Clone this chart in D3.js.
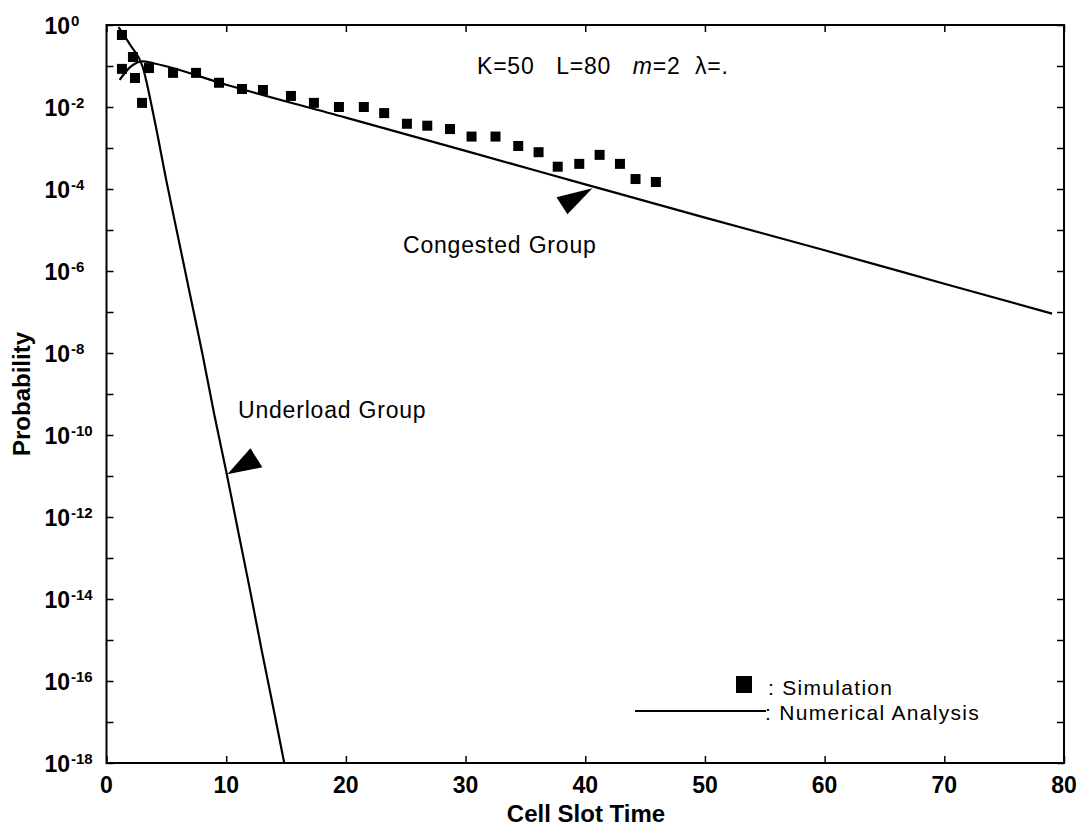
<!DOCTYPE html>
<html>
<head>
<meta charset="utf-8">
<script src="https://cdn.jsdelivr.net/npm/d3@7/dist/d3.min.js"></script>
<style>
  html, body { margin: 0; padding: 0; background: #fff; }
  svg { display: block; }
  text { font-family: "Liberation Sans", Arial, Helvetica, sans-serif; fill: #000; }
</style>
</head>
<body>
<svg id="chart" width="1086" height="829"></svg>
<script>
// ---- data ----
const xTicks = [0, 10, 20, 30, 40, 50, 60, 70, 80];
const yTickExponents = [0, -1, -2, -3, -4, -5, -6, -7, -8, -9, -10, -11, -12, -13, -14, -15, -16, -17, -18];
const yLabelExponents = [0, -2, -4, -6, -8, -10, -12, -14, -16, -18];

// Numerical analysis: congested group
const congestedX = [1.1, 2.0, 3.0, 4.0, 10, 20, 30, 40, 50, 60, 70, 79];
const congestedY = [0.046, 0.095, 0.13, 0.115, 0.035, 5.5e-3, 8.5e-4, 1.3e-4, 2.0e-5, 3.2e-6, 4.9e-7, 9.1e-8];

// Numerical analysis: underload group
const underloadX = [1.0, 2.0, 3.0, 4.0, 5.0, 6.0, 7.0, 8.0, 9.0, 10, 11, 12, 13, 14, 14.85];
const underloadY = [0.89, 0.32, 0.1, 5.0e-3, 1.6e-4, 6.3e-6, 2.5e-7, 1.0e-8, 3.2e-10, 1.3e-11, 4.5e-13, 1.6e-14, 5.0e-16, 1.8e-17, 1.0e-18];

// Simulation points
const simX = [1.29, 2.21, 1.29, 2.38, 2.97, 3.55, 5.56, 7.48, 9.4, 11.32, 13.07, 15.41, 17.33, 19.42, 21.5, 23.2, 25.1, 26.8, 28.7, 30.5, 32.5, 34.4, 36.1, 37.7, 39.5, 41.2, 42.9, 44.2, 45.9];
const simY = [0.57, 0.166, 0.085, 0.051, 0.0126, 0.089, 0.068, 0.068, 0.039, 0.0275, 0.026, 0.0186, 0.0126, 0.010, 0.010, 0.0071, 0.0039, 0.0035, 0.0029, 0.0019, 0.0019, 0.00112, 7.9e-4, 3.5e-4, 4.1e-4, 6.8e-4, 4.1e-4, 1.75e-4, 1.48e-4];

// annotation anchor points (on the curves)
const congestedArrow = { x: 40.6, y: 1.05e-4 };
const underloadArrow = { x: 10.1, y: 1.1e-11 };

// ---- layout ----
const svg = d3.select("#chart");
const L = 106.5, R = 1064, T = 25, B = 763;
const x = d3.scaleLinear().domain([0, 80]).range([L, R]);
const y = d3.scaleLog().domain([1e-18, 1]).range([B, T]);

const g = svg.append("g");

svg.append("defs").append("clipPath").attr("id", "plotclip")
  .append("rect").attr("x", L).attr("y", T).attr("width", R - L).attr("height", B - T);

const yTickVals = yTickExponents.map(e => Math.pow(10, e));
function styleAxis(s) {
  s.select(".domain").remove();
  s.selectAll("line").attr("stroke", "#000").attr("stroke-width", 1.5);
}
g.append("g").attr("transform", `translate(${L},0)`)
  .call(d3.axisLeft(y).tickValues(yTickVals).tickSize(-7).tickFormat("")).call(styleAxis);
g.append("g").attr("transform", `translate(${R},0)`)
  .call(d3.axisRight(y).tickValues(yTickVals).tickSize(-7).tickFormat("")).call(styleAxis);
g.append("g").attr("transform", `translate(0,${B})`)
  .call(d3.axisBottom(x).tickValues(xTicks).tickSize(-7).tickFormat("")).call(styleAxis);
g.append("g").attr("transform", `translate(0,${T})`)
  .call(d3.axisTop(x).tickValues(xTicks).tickSize(-7).tickFormat("")).call(styleAxis);

g.append("rect").attr("x", L).attr("y", T).attr("width", R - L).attr("height", B - T)
  .attr("fill", "none").attr("stroke", "#000").attr("stroke-width", 2);

// x tick labels
g.selectAll(".xl").data(xTicks).enter().append("text")
  .attr("x", d => x(d)).attr("y", B + 30)
  .attr("text-anchor", "middle").attr("font-size", 23).attr("font-weight", "bold")
  .text(d => d);

// y tick labels 10^e
const yl = g.selectAll(".yl").data(yLabelExponents).enter().append("g");
yl.append("text").attr("x", 70).attr("y", d => y(Math.pow(10, d)) + 9)
  .attr("text-anchor", "end").attr("font-size", 23).attr("font-weight", "bold").text("10");
yl.append("text").attr("x", 71).attr("y", d => y(Math.pow(10, d)) + 1)
  .attr("text-anchor", "start").attr("font-size", 15).attr("font-weight", "bold").text(d => d);

// axis titles
g.append("text").attr("x", 586).attr("y", 822)
  .attr("text-anchor", "middle").attr("font-size", 24).attr("font-weight", "bold").text("Cell Slot Time");
g.append("text").attr("transform", `translate(30,${(T + B) / 2}) rotate(-90)`)
  .attr("text-anchor", "middle").attr("font-size", 24).attr("font-weight", "bold").text("Probability");

// lines
const plot = g.append("g").attr("clip-path", "url(#plotclip)");
const line = d3.line().x(d => x(d[0])).y(d => y(d[1])).curve(d3.curveMonotoneX);
plot.append("path").datum(congestedX.map((v, i) => [v, congestedY[i]]))
  .attr("d", line).attr("fill", "none").attr("stroke", "#000").attr("stroke-width", 2.2);
plot.append("path").datum(underloadX.map((v, i) => [v, underloadY[i]]))
  .attr("d", line).attr("fill", "none").attr("stroke", "#000").attr("stroke-width", 2.2);

// simulation squares
const sq = 10;
plot.selectAll(".sim").data(simX.map((v, i) => [v, simY[i]])).enter().append("rect")
  .attr("x", d => x(d[0]) - sq / 2).attr("y", d => y(d[1]) - sq / 2)
  .attr("width", sq).attr("height", sq).attr("fill", "#000");

// arrows
function arrow(tipx, tipy, pts) {
  g.append("path")
    .attr("d", "M" + [[tipx, tipy]].concat(pts.map(p => [tipx + p[0], tipy + p[1]])).map(p => p.join(",")).join("L") + "Z")
    .attr("fill", "#000");
}
arrow(x(congestedArrow.x), y(congestedArrow.y), [[-36, 9], [-25, 26]]);
arrow(x(underloadArrow.x), y(underloadArrow.y), [[23, -26], [35, -7]]);

// annotations
const annoStyle = s => s.attr("font-size", 23).attr("letter-spacing", 0.8);
g.append("text").attr("x", 403).attr("y", 253).call(annoStyle).text("Congested Group");
g.append("text").attr("x", 238).attr("y", 418).call(annoStyle).text("Underload Group");

const t = g.append("text").attr("x", 477).attr("y", 74).call(annoStyle);
t.append("tspan").text("K=50\u00a0\u00a0\u00a0L=80\u00a0\u00a0\u00a0");
t.append("tspan").attr("font-style", "italic").text("m");
t.append("tspan").text("=2\u00a0\u00a0\u03bb=.");

// legend
const legStyle = s => s.attr("font-size", 21).attr("letter-spacing", 1.3);
g.append("rect").attr("x", 736).attr("y", 676).attr("width", 16).attr("height", 17).attr("fill", "#000");
g.append("text").attr("x", 768).attr("y", 695).call(legStyle).text(": Simulation");
g.append("line").attr("x1", 635).attr("x2", 766).attr("y1", 711).attr("y2", 711)
  .attr("stroke", "#000").attr("stroke-width", 2);
g.append("text").attr("x", 765).attr("y", 720).call(legStyle).text(": Numerical Analysis");
</script>
</body>
</html>
